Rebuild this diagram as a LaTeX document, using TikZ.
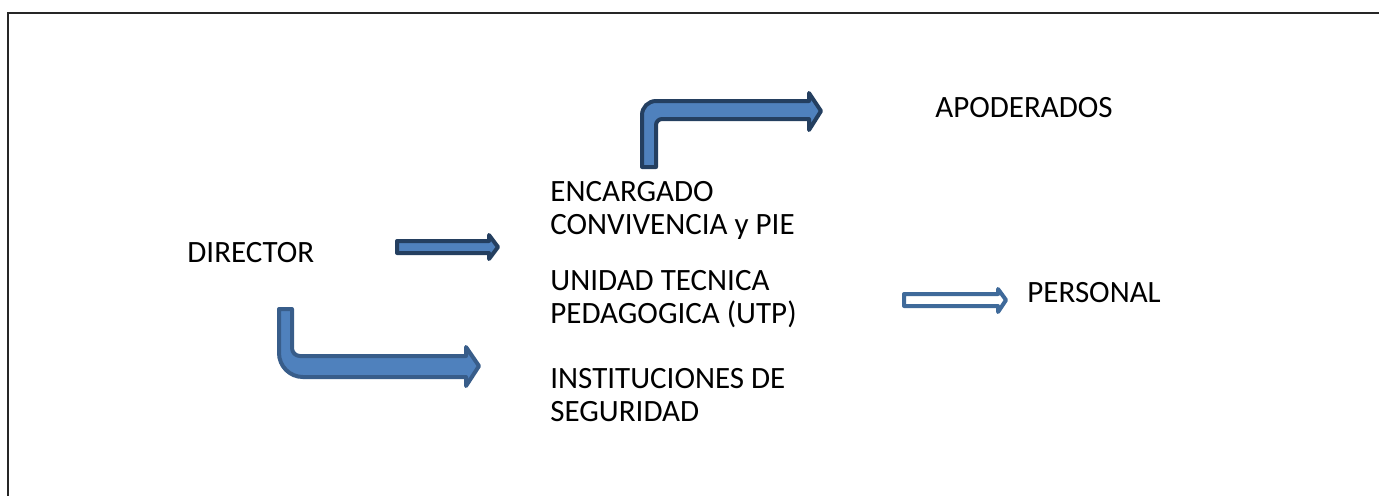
\documentclass[tikz,border=0pt]{standalone}
\usepackage{fontspec}
\setmainfont{Carlito}
\usepackage{xcolor}
\usepackage{tikz}
\definecolor{arrowfill}{HTML}{4F81BD}
\definecolor{darkline}{HTML}{243F60}
\definecolor{midline}{HTML}{385D8A}
\definecolor{lightline}{HTML}{3F6A9A}
\tikzset{
    label_node/.style = {anchor=base west, align=left, inner sep=0pt, font=\fontsize{15.5pt}{16.5pt}\selectfont},
    dark_arrow/.style = {fill=arrowfill, draw=darkline, line width=2pt, line join=round},
    mid_arrow/.style = {fill=arrowfill, draw=midline, line width=2pt, line join=round},
    open_arrow/.style = {fill=white, draw=lightline, line width=2pt, line join=round}
}

\begin{document}
\begin{tikzpicture}[x=0.5pt, y=-0.5pt]
    \useasboundingbox (0,0) rectangle (1379,495);
    \draw[line width=1pt, black!85] (8,13) rectangle (1400,520);

    % labels
    \node[label_node] (director) at (187,262) {DIRECTOR};
    \node[label_node] (apoderados) at (935,117) {APODERADOS};
    \node[label_node] (encargado) at (550,234) {ENCARGADO\\CONVIVENCIA y PIE};
    \node[label_node] (utp) at (550,323) {UNIDAD TECNICA\\PEDAGOGICA (UTP)};
    \node[label_node] (seguridad) at (550,421) {INSTITUCIONES DE\\SEGURIDAD};
    \node[label_node] (personal) at (1027,302) {PERSONAL};

    % arrows
    \draw[dark_arrow] (642,167) [rounded corners=7pt] -- (642,101) -- (740,101) [sharp corners]
        -- (809,101) -- (809,93) -- (821,111) -- (809,130) -- (809,119)
        -- (740,119) [rounded corners=3pt] -- (656,119) -- (656,140) [sharp corners] -- (656,167) -- cycle;
    \draw[dark_arrow] (397,241) -- (489,241) -- (489,235) -- (498,247)
        -- (489,259) -- (489,253) -- (397,253) -- cycle;
    \draw[mid_arrow] (279,309) [rounded corners=12pt] -- (279,377) -- (380,377) [sharp corners]
        -- (466,377) -- (466,386) -- (479,366) -- (466,347) -- (466,356)
        -- (380,356) [rounded corners=4pt] -- (292,356) -- (292,330) [sharp corners] -- (292,309) -- cycle;
    \draw[open_arrow] (904,294) -- (998,294) -- (998,289) -- (1006,300)
        -- (998,312) -- (998,306) -- (904,306) -- cycle;
\end{tikzpicture}
\end{document}
